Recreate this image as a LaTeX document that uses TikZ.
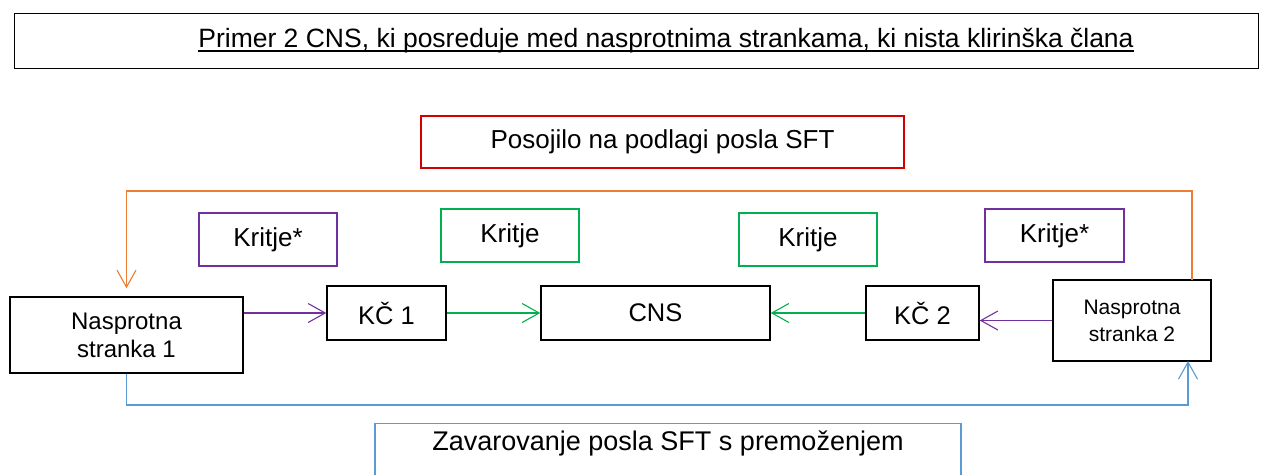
\documentclass[tikz,border=0pt]{standalone}
\usepackage{fontspec}
\setmainfont{Liberation Sans}
\usetikzlibrary{arrows.meta}
\definecolor{orng}{RGB}{237,125,49}
\definecolor{redb}{RGB}{210,0,0}
\definecolor{purp}{RGB}{112,48,160}
\definecolor{grn}{RGB}{0,176,80}
\definecolor{blu}{RGB}{91,155,213}
\newcommand\myul[1]{\setbox0\hbox{#1}\rlap{\rule[-4.5pt]{\wd0}{1.6pt}}\box0}
\tikzset{
  box/.style={draw=black, line width=1.5pt, inner sep=0pt, align=center, text=black},
  cbox/.style={draw=#1, line width=1.3pt, inner sep=0pt, align=center, text=black},
  conn/.style={draw=#1, line width=1.1pt, -{Straight Barb[length=17pt,width=19pt,line width=1.1pt]}},
}
\begin{document}
\begin{tikzpicture}[x=1pt,y=-1pt]
\useasboundingbox (0,0) rectangle (1272,474);
\clip (0,0) rectangle (1272,474);
\fill[white] (0,0) rectangle (1272,474);

\node[box, line width=1pt, font=\fontsize{26.5}{30}\selectfont, minimum width=1244pt, minimum height=55pt] (title) at (636,40.5)
  {\hspace*{60pt}\myul{Primer 2 CNS, ki posreduje med nasprotnima strankama, ki nista klirinška člana}};
\node[cbox=redb, font=\fontsize{26}{30}\selectfont, minimum width=483pt, minimum height=52pt] (pos) at (662.5,142) {Posojilo na podlagi posla SFT};

\node[box, font=\fontsize{24}{28}\selectfont, minimum width=233pt, minimum height=76pt] (ns1) at (126.5,335) {Nasprotna\\stranka 1};
\node[cbox=purp, font=\fontsize{26}{30}\selectfont, minimum width=138pt, minimum height=53pt] (k1) at (268,239.5) {Kritje*};
\node[box, font=\fontsize{25.5}{30}\selectfont, minimum width=119pt, minimum height=54pt] (kc1) at (386.5,313) {KČ 1};
\node[cbox=grn, font=\fontsize{26}{30}\selectfont, minimum width=138pt, minimum height=53pt] (k2) at (510,235.5) {Kritje};
\node[box, font=\fontsize{25.5}{30}\selectfont, minimum width=229pt, minimum height=54pt] (cns) at (655.5,313) {CNS};
\node[cbox=grn, font=\fontsize{26}{30}\selectfont, minimum width=138pt, minimum height=53pt] (k3) at (808,239.5) {Kritje};
\node[box, font=\fontsize{25.5}{30}\selectfont, minimum width=113pt, minimum height=54pt] (kc2) at (922.5,313) {KČ 2};
\node[cbox=purp, font=\fontsize{26}{30}\selectfont, minimum width=139pt, minimum height=53pt] (k4) at (1054.5,235.5) {Kritje*};
\node[box, font=\fontsize{21}{27}\selectfont, minimum width=158pt, minimum height=81pt] (ns2) at (1132,320.5) {Nasprotna\\stranka 2};
\node[cbox=blu, font=\fontsize{27}{30}\selectfont, minimum width=586pt, text height=27pt, text depth=40pt, anchor=north] (zav) at (668,423) {Zavarovanje posla SFT s premoženjem};

\coordinate (o1) at (1192,280);
\coordinate (o2) at (600,191);
\coordinate (b2) at (1188,361);
\coordinate (b1) at (600,405);

\draw[conn=orng, shorten >=8pt] (o1) |- (o2) -| (ns1.north);
\draw[conn=purp] (ns1.east |- kc1.west) -- (kc1.west);
\draw[conn=grn] (kc1.east) -- (cns.west);
\draw[conn=grn] (kc2.west) -- (cns.east);
\draw[conn=purp] (ns2.west) -- (kc2.east |- ns2.west);
\draw[conn=blu] (ns1.south) |- (b1) -| (b2);
\end{tikzpicture}
\end{document}
